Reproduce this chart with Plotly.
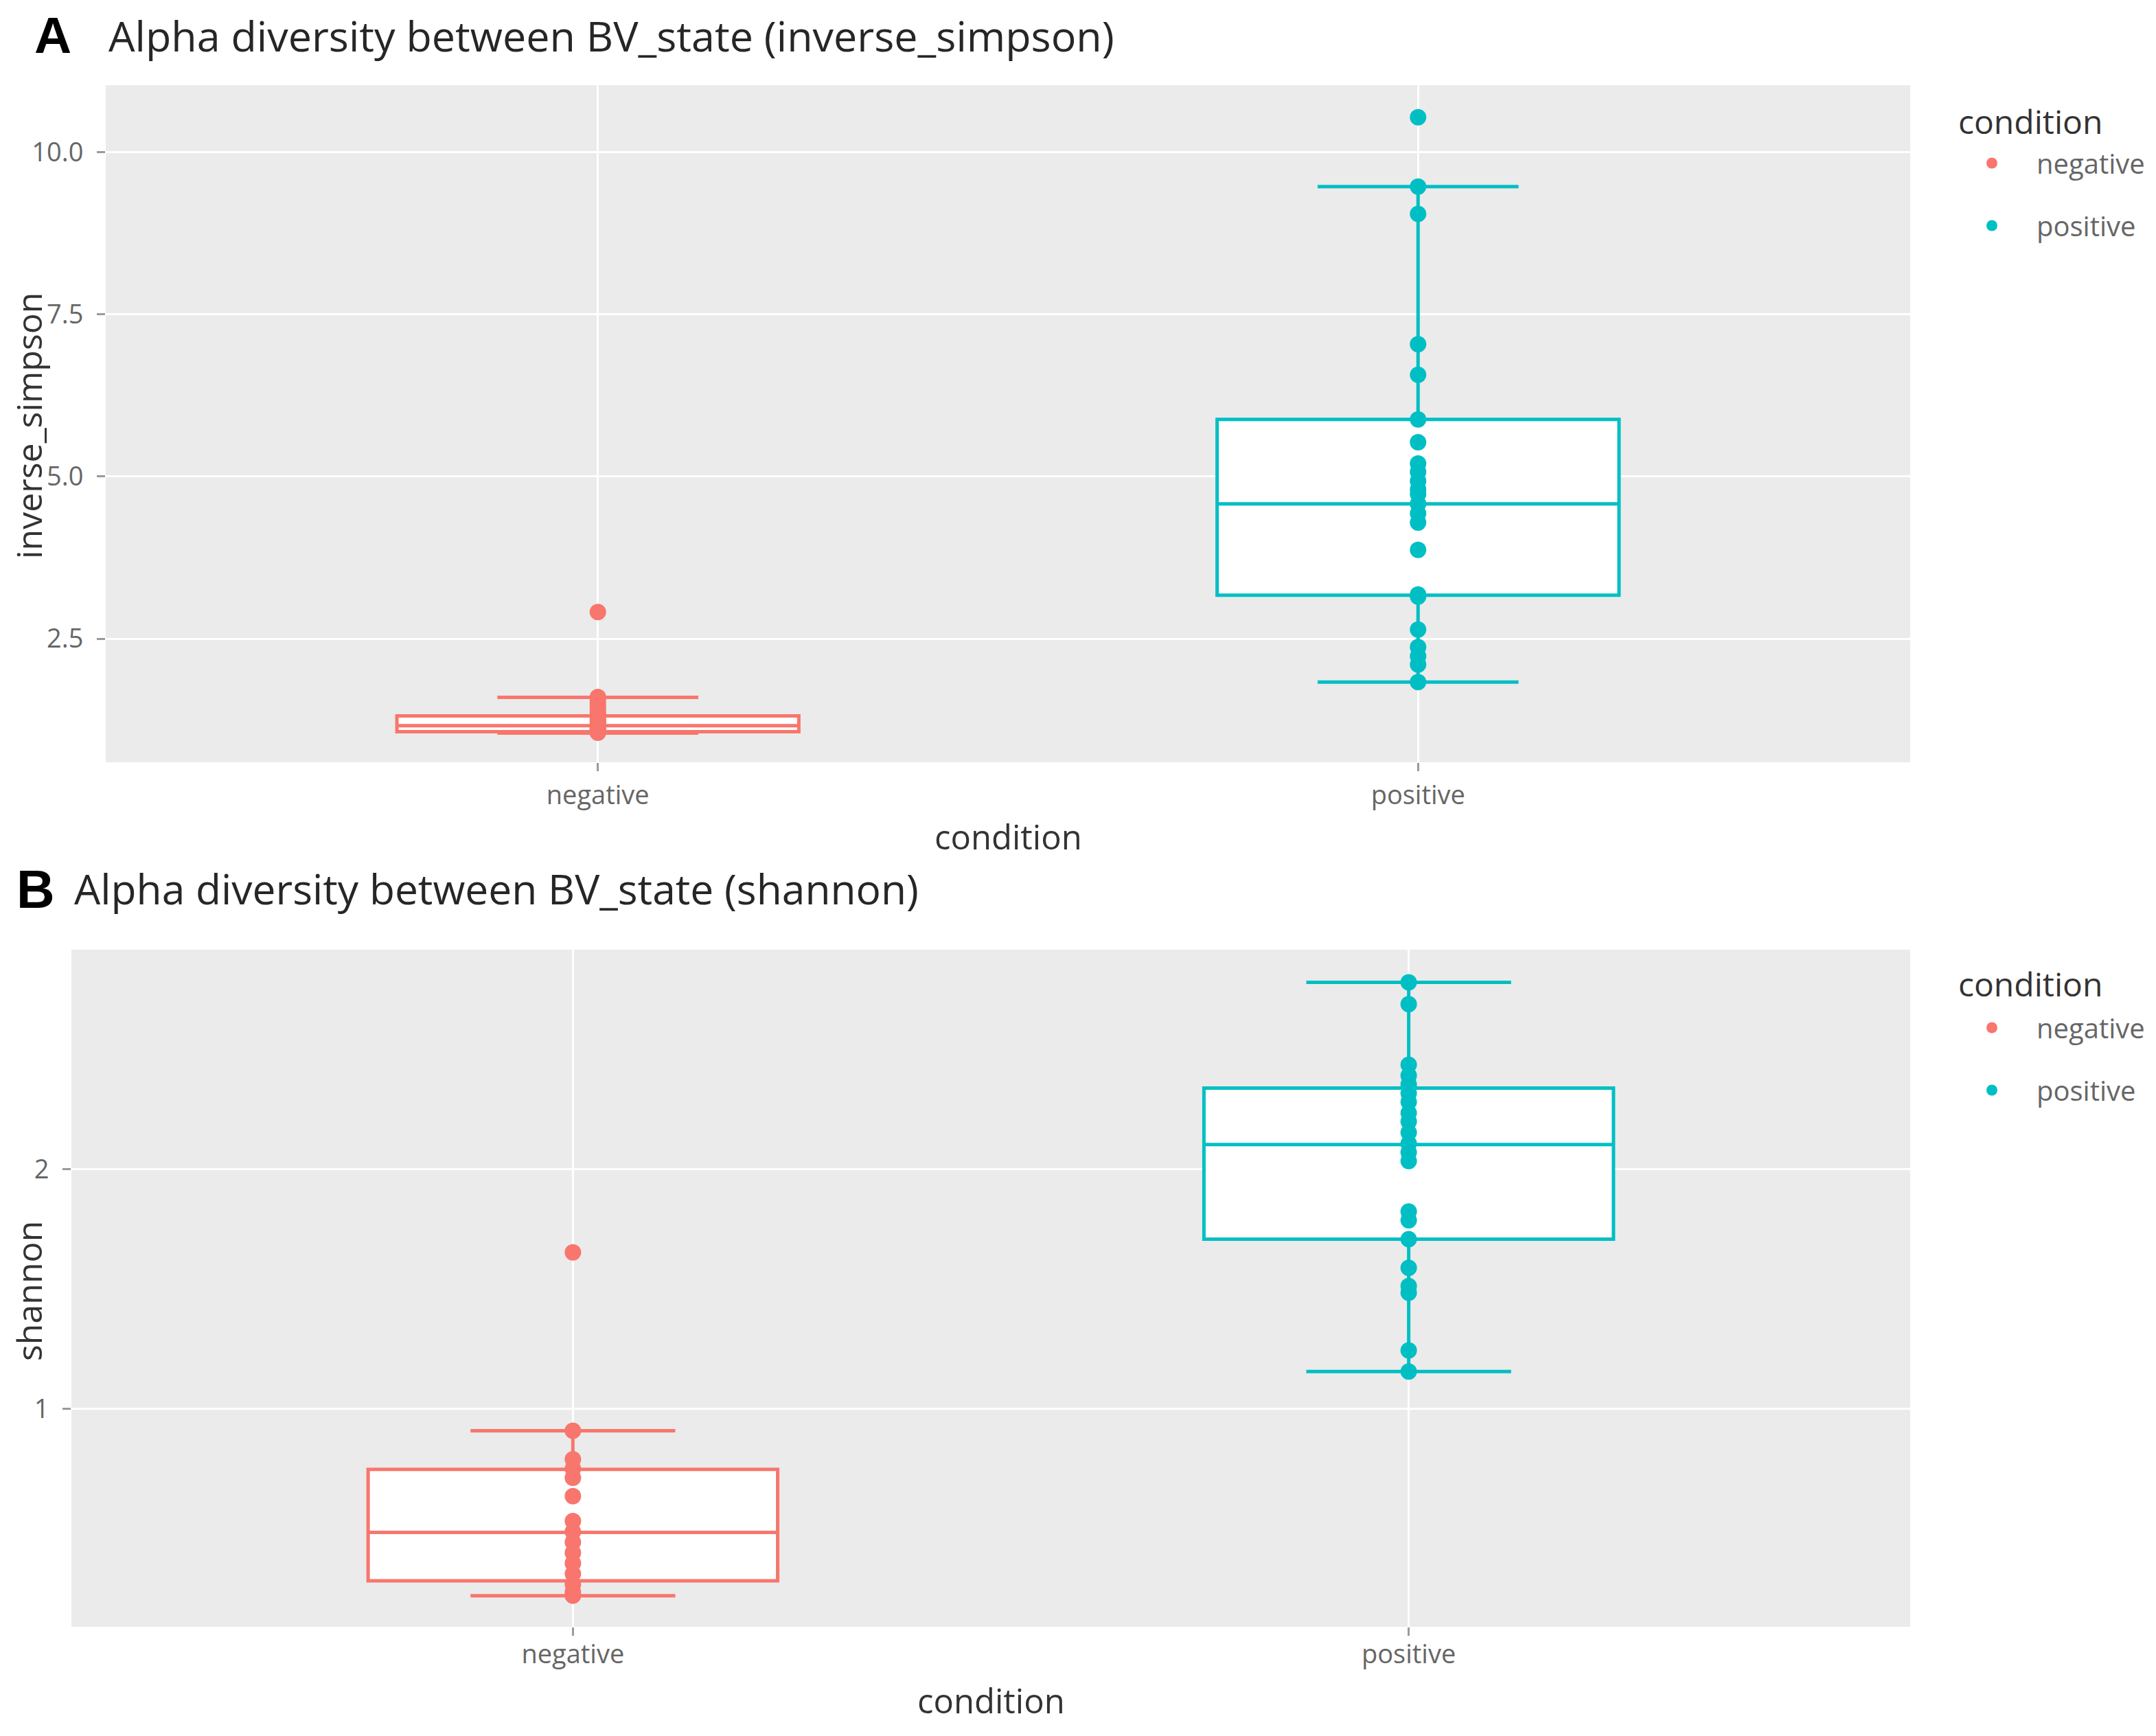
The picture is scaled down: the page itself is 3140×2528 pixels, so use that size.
import plotly.graph_objects as go

W, H = 3140, 2528

categories = ["negative", "positive"]
colors = {"negative": "#F8766D", "positive": "#00BFC4"}

# ---- Panel A: inverse_simpson ----
invsimp_negative = [2.91, 1.60, 1.55, 1.50, 1.45, 1.40, 1.36, 1.32, 1.29, 1.26, 1.23,
                    1.20, 1.18, 1.16, 1.14, 1.12, 1.10, 1.09, 1.08, 1.07, 1.06, 1.05]
invsimp_positive = [10.54, 9.47, 9.05, 7.04, 6.57, 5.88, 5.53, 5.20, 5.07, 4.93, 4.80,
                    4.73, 4.58, 4.43, 4.29, 3.87, 3.18, 3.15, 2.64, 2.37, 2.23, 2.10, 1.83]
# box stats: lowerfence, q1, median, q3, upperfence
invsimp_box_negative = [1.045, 1.065, 1.16, 1.31, 1.595]
invsimp_box_positive = [1.83, 3.17, 4.58, 5.88, 9.47]
invsimp_ticks = [2.5, 5.0, 7.5, 10.0]
invsimp_ticklabels = ["2.5", "5.0", "7.5", "10.0"]

# ---- Panel B: shannon ----
shannon_negative = [1.652, 0.908, 0.789, 0.75, 0.712, 0.635, 0.531, 0.487, 0.443,
                    0.399, 0.355, 0.311, 0.267, 0.235, 0.22]
shannon_positive = [2.779, 2.688, 2.435, 2.39, 2.353, 2.316, 2.28, 2.234, 2.198, 2.152,
                    2.106, 2.07, 2.033, 1.823, 1.786, 1.707, 1.588, 1.512, 1.484, 1.243, 1.155]
shannon_box_negative = [0.22, 0.282, 0.484, 0.747, 0.908]
shannon_box_positive = [1.155, 1.707, 2.102, 2.338, 2.779]
shannon_ticks = [1, 2]
shannon_ticklabels = ["1", "2"]

FONT = "Open Sans"


def px(x):
    return x / W


def py(y):
    return 1 - y / H


fig = go.Figure()

panels = [
    ("x", "y", "legend", "A",
     {"negative": invsimp_negative, "positive": invsimp_positive},
     {"negative": invsimp_box_negative, "positive": invsimp_box_positive}),
    ("x2", "y2", "legend2", "B",
     {"negative": shannon_negative, "positive": shannon_positive},
     {"negative": shannon_box_negative, "positive": shannon_box_positive}),
]

for xa, ya, leg, tag, pts, boxes in panels:
    for cat in categories:
        lf, q1, med, q3, uf = boxes[cat]
        fig.add_trace(go.Box(
            x=[cat], lowerfence=[lf], q1=[q1], median=[med], q3=[q3], upperfence=[uf],
            width=0.49, whiskerwidth=0.5, fillcolor="white",
            line=dict(color=colors[cat], width=5), boxpoints=False,
            showlegend=False, xaxis=xa, yaxis=ya, name=cat,
        ))
    for cat in categories:
        fig.add_trace(go.Scatter(
            x=[cat] * len(pts[cat]), y=pts[cat], mode="markers",
            marker=dict(color=colors[cat], size=24),
            name=cat, legend=leg, legendgroup=tag + cat,
            xaxis=xa, yaxis=ya,
        ))

TICK_COLOR = "#666666"
axis_common = dict(
    showgrid=True, gridcolor="white", gridwidth=2.5, zeroline=False,
    ticks="outside", ticklen=12, tickwidth=3, tickcolor="#9a9a9a",
    tickfont=dict(family=FONT, size=38, color=TICK_COLOR),
    showline=False,
)
xaxis_common = dict(axis_common)
yaxis_common = dict(axis_common, ticklabelstandoff=12)

legend_common = dict(
    xanchor="left", yanchor="top",
    font=dict(family=FONT, size=40, color=TICK_COLOR),
    tracegroupgap=36, bgcolor="rgba(0,0,0,0)", indentation=-6, itemwidth=120,
)

fig.update_layout(
    width=W, height=H,
    margin=dict(l=0, r=0, t=0, b=0),
    paper_bgcolor="white", plot_bgcolor="#EBEBEB",
    font=dict(family=FONT),
    xaxis=dict(domain=[px(146), px(2774)], anchor="y", type="category",
               categoryorder="array", categoryarray=categories,
               range=[-0.6, 1.6], ticklabelstandoff=2, **xaxis_common),
    yaxis=dict(domain=[py(1102), py(116)], anchor="x", range=[0.595, 11.035],
               tickvals=invsimp_ticks, ticktext=invsimp_ticklabels, **yaxis_common),
    xaxis2=dict(domain=[px(96), px(2774)], anchor="y2", type="category",
                categoryorder="array", categoryarray=categories,
                range=[-0.6, 1.6], ticklabelstandoff=-6, **xaxis_common),
    yaxis2=dict(domain=[py(2361), py(1375)], anchor="x2", range=[0.09, 2.915],
                tickvals=shannon_ticks, ticktext=shannon_ticklabels, **yaxis_common),
    legend=dict(x=px(2834), y=py(197), **legend_common),
    legend2=dict(x=px(2834), y=py(1456), **legend_common),
)

TITLE_COLOR = "#333333"
annotations = [
    dict(text="<b>A</b>", x=px(40), y=py(43), xanchor="left",
         font=dict(family="Liberation Sans", size=75, color="black")),
    dict(text="Alpha diversity between BV_state (inverse_simpson)", x=px(148), y=py(43),
         xanchor="left", font=dict(family=FONT, size=61, color="#262626")),
    dict(text="<b>B</b>", x=px(14), y=py(1287), xanchor="left",
         font=dict(family="Liberation Sans", size=77, color="black")),
    dict(text="Alpha diversity between BV_state (shannon)", x=px(98), y=py(1285),
         xanchor="left", font=dict(family=FONT, size=60.5, color="#262626")),
    dict(text="condition", x=px(1460), y=py(1210), font=dict(family=FONT, size=49, color=TITLE_COLOR)),
    dict(text="condition", x=px(1435), y=py(2468), font=dict(family=FONT, size=49, color=TITLE_COLOR)),
    dict(text="inverse_simpson", x=px(34), y=py(612), textangle=-90,
         font=dict(family=FONT, size=50, color=TITLE_COLOR)),
    dict(text="shannon", x=px(34), y=py(1872), textangle=-90,
         font=dict(family=FONT, size=50, color=TITLE_COLOR)),
    # legend titles
    dict(text="condition", x=px(2842), y=py(168), xanchor="left",
         font=dict(family=FONT, size=48, color=TITLE_COLOR)),
    dict(text="condition", x=px(2842), y=py(1424), xanchor="left",
         font=dict(family=FONT, size=48, color=TITLE_COLOR)),
]
for a in annotations:
    a.setdefault("xanchor", "center")
    a.update(xref="paper", yref="paper", yanchor="middle", showarrow=False)
fig.update_layout(annotations=annotations)

fig.write_html("out.html")
